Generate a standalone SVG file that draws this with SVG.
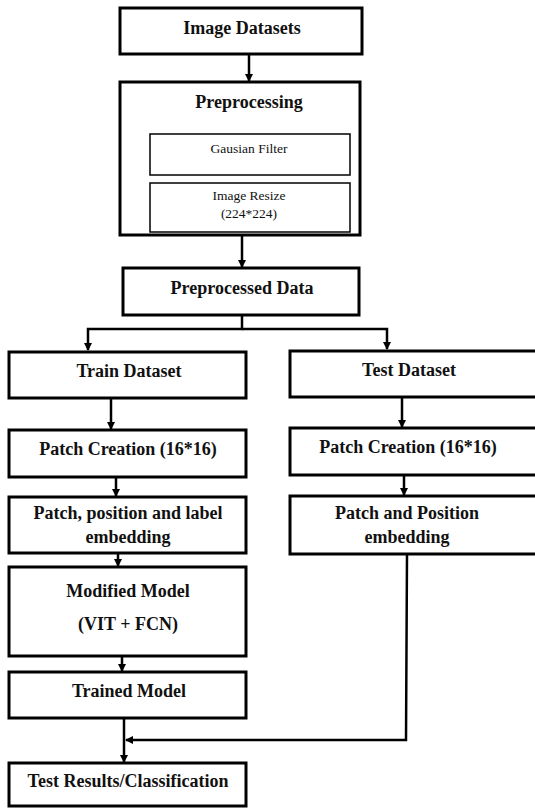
<svg xmlns="http://www.w3.org/2000/svg" width="535" height="808" viewBox="0 0 535 808">
<defs>
<style>
.box{fill:#fff;stroke:#000;stroke-width:3}
.inner{fill:#fff;stroke:#000;stroke-width:1.5}
.t{font-family:"Liberation Serif","Times New Roman",serif;font-weight:bold;font-size:18px;text-anchor:middle;fill:#111}
.s{font-family:"Liberation Serif","Times New Roman",serif;font-size:13.5px;text-anchor:middle;fill:#111}
.c{fill:none;stroke:#000;stroke-width:2.5}
</style>
<marker id="ah" markerWidth="8" markerHeight="8" refX="7" refY="4" orient="auto" markerUnits="userSpaceOnUse">
<path d="M0,0 L8,4 L0,8 z" fill="#000"/>
</marker>
</defs>
<rect width="535" height="808" fill="#fff"/>
<g id="connectors">
<line class="c" x1="249" y1="54" x2="249" y2="81" marker-end="url(#ah)"/>
<line class="c" x1="242" y1="236" x2="242" y2="267" marker-end="url(#ah)"/>
<polyline class="c" points="242,315 242,329 88,329 88,350" marker-end="url(#ah)"/>
<polyline class="c" points="242,329 387,329 387,349" marker-end="url(#ah)"/>
<line class="c" x1="111" y1="398" x2="111" y2="429" marker-end="url(#ah)"/>
<line class="c" x1="402" y1="397" x2="402" y2="427" marker-end="url(#ah)"/>
<line class="c" x1="116" y1="477" x2="116" y2="496" marker-end="url(#ah)"/>
<line class="c" x1="404" y1="475" x2="404" y2="495" marker-end="url(#ah)"/>
<line class="c" x1="118" y1="553" x2="118" y2="566" marker-end="url(#ah)"/>
<line class="c" x1="122" y1="656" x2="122" y2="671" marker-end="url(#ah)"/>
<line class="c" x1="124" y1="718" x2="124" y2="762" marker-end="url(#ah)"/>
<polyline class="c" points="407,554 406,740 126,740" marker-end="url(#ah)"/>
</g>
<g id="image-datasets">
<rect class="box" x="120" y="8" width="242" height="46"/>
<text class="t" x="242" y="34">Image Datasets</text>
</g>
<g id="preprocessing">
<rect class="box" x="120" y="82" width="240" height="153"/>
<text class="t" x="249" y="108">Preprocessing</text>
<g id="gausian-filter">
<rect class="inner" x="150" y="134" width="200" height="41"/>
<text class="s" x="249" y="153">Gausian Filter</text>
</g>
<g id="image-resize">
<rect class="inner" x="150" y="183" width="200" height="49"/>
<text class="s" x="249" y="200">Image Resize</text>
<text class="s" x="249" y="218">(224*224)</text>
</g>
</g>
<g id="preprocessed-data">
<rect class="box" x="123" y="268" width="236" height="47"/>
<text class="t" x="242" y="294">Preprocessed Data</text>
</g>
<g id="train-dataset">
<rect class="box" x="9" y="352" width="237" height="46"/>
<text class="t" x="129" y="377">Train Dataset</text>
</g>
<g id="test-dataset">
<rect class="box" x="290" y="351" width="247" height="46"/>
<text class="t" x="409" y="376">Test Dataset</text>
</g>
<g id="train-patch-creation">
<rect class="box" x="9" y="430" width="237" height="47"/>
<text class="t" x="128" y="455">Patch Creation (16*16)</text>
</g>
<g id="test-patch-creation">
<rect class="box" x="290" y="428" width="247" height="47"/>
<text class="t" x="408" y="453">Patch Creation (16*16)</text>
</g>
<g id="train-embedding">
<rect class="box" x="9" y="497" width="237" height="56"/>
<text class="t" x="128" y="519">Patch, position and label</text>
<text class="t" x="128" y="543">embedding</text>
</g>
<g id="test-embedding">
<rect class="box" x="290" y="496" width="247" height="58"/>
<text class="t" x="407" y="519">Patch and Position</text>
<text class="t" x="407" y="543">embedding</text>
</g>
<g id="modified-model">
<rect class="box" x="9" y="567" width="237" height="89"/>
<text class="t" x="128" y="597">Modified Model</text>
<text class="t" x="128" y="630">(VIT + FCN)</text>
</g>
<g id="trained-model">
<rect class="box" x="9" y="672" width="237" height="46"/>
<text class="t" x="129" y="697">Trained Model</text>
</g>
<g id="test-results">
<rect class="box" x="9" y="763" width="237" height="43"/>
<text class="t" x="128" y="787">Test Results/Classification</text>
</g>
</svg>
